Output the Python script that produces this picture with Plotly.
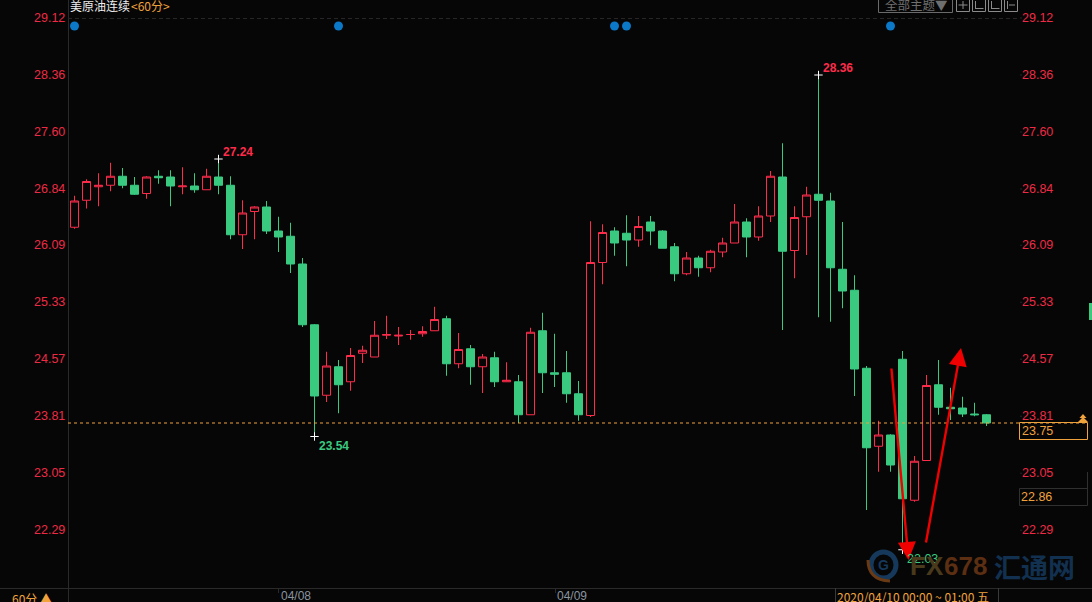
import plotly.graph_objects as go

# 60 min candles
opens = [26.33, 26.69, 26.87, 26.89, 27.01, 26.89, 26.78, 27.01, 27.00, 26.87, 26.88, 26.83, 27.00, 26.89, 26.23, 26.54,
         26.60, 26.28, 26.21, 25.84, 25.03, 24.09, 24.47, 24.27, 24.65, 24.60, 24.89, 24.88, 24.90, 24.91, 24.95, 25.11,
         24.51, 24.71, 24.47, 24.59, 24.27, 24.27, 23.83, 24.95, 24.39, 24.39, 24.11, 23.82, 25.86, 26.28, 26.25, 26.16,
         26.40, 26.28, 26.07, 25.71, 25.92, 25.79, 26.00, 26.12, 26.40, 26.20, 26.48, 27.00, 26.02, 26.47, 26.77, 26.68,
         25.77, 25.49, 24.45, 23.41, 23.56, 24.57, 22.69, 23.22, 24.23, 23.93, 23.92, 23.84, 23.83]
closes = [26.68, 26.94, 26.89, 27.01, 26.89, 26.77, 27.00, 26.99, 26.88, 26.88, 26.83, 27.01, 26.89, 26.23, 26.52, 26.60,
          26.28, 26.20, 25.84, 25.03, 24.08, 24.48, 24.23, 24.62, 24.69, 24.89, 24.90, 24.89, 24.90, 24.94, 25.10, 24.51,
          24.70, 24.47, 24.60, 24.27, 24.29, 23.83, 24.93, 24.39, 24.37, 24.11, 23.83, 25.86, 26.26, 26.12, 26.16, 26.34,
          26.28, 26.05, 25.71, 25.92, 25.79, 26.01, 26.12, 26.40, 26.20, 26.48, 27.01, 26.01, 26.46, 26.76, 26.69, 25.79,
          25.48, 24.44, 23.39, 23.56, 23.16, 22.71, 23.21, 24.22, 23.93, 23.91, 23.84, 23.83, 23.72]
highs = [26.75, 26.97, 27.05, 27.19, 27.12, 27.00, 27.01, 27.09, 27.09, 27.13, 27.05, 27.11, 27.24, 27.01, 26.69, 26.61,
         26.68, 26.47, 26.39, 25.92, 25.04, 24.67, 24.56, 24.72, 24.75, 25.08, 25.15, 25.00, 24.96, 25.01, 25.27, 25.15,
         24.92, 24.76, 24.64, 24.67, 24.53, 24.36, 24.99, 25.19, 24.91, 24.68, 24.28, 26.41, 26.37, 26.33, 26.49, 26.48,
         26.48, 26.29, 26.12, 26.00, 25.95, 26.03, 26.19, 26.64, 26.45, 26.61, 27.08, 27.45, 26.61, 26.87, 28.36, 26.79,
         26.40, 25.69, 24.48, 23.75, 23.57, 24.68, 23.28, 24.36, 24.56, 24.19, 24.07, 23.99, 23.84]
lows = [26.31, 26.58, 26.61, 26.81, 26.85, 26.76, 26.71, 26.91, 26.61, 26.77, 26.79, 26.83, 26.77, 26.17, 26.04, 26.17,
        26.24, 26.00, 25.72, 25.00, 23.54, 24.00, 23.85, 24.15, 24.52, 24.60, 24.84, 24.76, 24.83, 24.87, 24.95, 24.35,
        24.45, 24.23, 24.12, 24.20, 24.27, 23.72, 23.83, 24.12, 24.20, 23.99, 23.75, 23.80, 25.57, 25.95, 25.81, 26.07,
        26.09, 26.05, 25.61, 25.69, 25.67, 25.73, 25.93, 26.12, 25.93, 26.15, 26.40, 24.96, 25.65, 25.96, 25.13, 25.07,
        25.25, 24.08, 22.56, 23.07, 23.07, 22.03, 22.67, 23.22, 23.83, 23.76, 23.80, 23.81, 23.68]

price_ticks = [29.12, 28.36, 27.60, 26.84, 26.09, 25.33, 24.57, 23.81, 23.05, 22.29]
tick_text = ["29.12", "28.36", "27.60", "26.84", "26.09", "25.33", "24.57", "23.81", "23.05", "22.29"]
date_idx = [17, 40]
date_text = ["04/08", "04/09"]
event_idx = [0, 22, 45, 46, 68]
extreme_idx = [12, 62, 20, 69]
extreme_val = [27.24, 28.36, 23.54, 22.03]
last_line = 23.72

W, H = 1092, 602
PLOT_L, PLOT_R, PLOT_B = 68, 1018, 588
BG = "#060606"
RED = "#FF2B4A"
AXIS_RED = "#EE2A45"
GREEN = "#39CA80"
ORANGE = "#F0A23C"
GRID = "#2A2A2A"
ICON = "#8A8A8A"
CJK = "Noto Sans CJK SC"
LATIN = "Liberation Sans"


# pixel helpers, the screenshot is easier to measure in pixels
def idx(px):
    return (px - 74.5) / 12


def price(py):
    return 29.12 - (py - 18) / 75


def px_x(px):
    return px / W


def px_y(py):
    return 1 - py / H


def label(fig, text, x, y, color, size=12, anchor="left", font=LATIN):
    fig.add_annotation(text=text, xref="paper", yref="paper", x=px_x(x), y=px_y(y), xanchor=anchor, yanchor="middle",
                       showarrow=False, font=dict(color=color, size=size, family=font), borderpad=0, borderwidth=0)


def rect(fig, x0, y0, x1, y1, line=None, fill=None, width=1):
    fig.add_shape(type="rect", xref="paper", yref="paper", x0=px_x(x0), x1=px_x(x1), y0=px_y(y0), y1=px_y(y1),
                  line=dict(color=line, width=width if line else 0), fillcolor=fill, layer="above")


def hvline(fig, x0, y0, x1, y1, color=GRID, dash="solid", layer="below"):
    fig.add_shape(type="line", xref="paper", yref="paper", x0=px_x(x0), x1=px_x(x1), y0=px_y(y0), y1=px_y(y1),
                  line=dict(color=color, width=1, dash=dash), layer=layer)


def chevron(fig, cx, top, bottom, half):
    path = f"M {px_x(cx)} {px_y(top)} L {px_x(cx + half)} {px_y(bottom)} L {px_x(cx - half)} {px_y(bottom)} Z"
    fig.add_shape(type="path", xref="paper", yref="paper", path=path, fillcolor=ORANGE, line=dict(width=0))


xs = list(range(len(opens)))
fig = go.Figure()
fig.add_trace(go.Candlestick(
    x=xs, open=opens, high=highs, low=lows, close=closes, whiskerwidth=0,
    increasing=dict(line=dict(color=RED, width=1), fillcolor=BG),
    decreasing=dict(line=dict(color=GREEN, width=1), fillcolor=GREEN),
    showlegend=False,
))
fig.add_trace(go.Scatter(x=event_idx, y=[price(26)] * len(event_idx), mode="markers", showlegend=False,
                         marker=dict(color="#0B78C8", size=9, symbol="circle")))
fig.add_trace(go.Scatter(x=extreme_idx, y=extreme_val, mode="markers", showlegend=False,
                         marker=dict(symbol="cross-thin", size=6, line=dict(color="#FFFFFF", width=1))))

# last price line
fig.add_shape(type="line", xref="paper", yref="y", x0=px_x(PLOT_L), x1=px_x(1087), y0=last_line, y1=last_line,
              line=dict(color=ORANGE, width=1, dash="3px,3px"))

# frame lines
hvline(fig, PLOT_L + 0.5, 0, PLOT_L + 0.5, H)
hvline(fig, 0, PLOT_B + 0.5, W, PLOT_B + 0.5)
hvline(fig, PLOT_L, 18.5, PLOT_R, 18.5, color="#262626", dash="4px,3px")
hvline(fig, 278.5, PLOT_B, 278.5, PLOT_B + 5)
hvline(fig, 555.5, PLOT_B, 555.5, PLOT_B + 5)
hvline(fig, 1087.5, 472, 1087.5, 505, color="#303030")

# hand drawn arrows, kept under the texts
fig.add_annotation(xref="x", yref="y", axref="x", ayref="y", x=idx(908.5), y=price(560), ax=idx(891.3), ay=price(367),
                   showarrow=True, arrowhead=2, arrowsize=1.5, arrowwidth=2.4, arrowcolor="#F00000", text="")
fig.add_annotation(xref="x", yref="y", axref="x", ayref="y", x=idx(961), y=price(348), ax=idx(925.7), ay=price(544),
                   showarrow=True, arrowhead=2, arrowsize=1.5, arrowwidth=2.4, arrowcolor="#F00000", text="")

# axis labels on both sides
for value, text in zip(price_ticks, tick_text):
    y = 18 + (29.12 - value) * 75
    label(fig, text, 65, y, AXIS_RED, size=12.5, anchor="right")
    label(fig, text, 1022, y, AXIS_RED, size=12.5)
    hvline(fig, 1020, y, 1022, y, color="#242424")

# extreme labels
label(fig, "<b>27.24</b>", 223, 152, RED)
label(fig, "<b>28.36</b>", 823, 68, RED)
label(fig, "<b>23.54</b>", 319, 446, GREEN)
label(fig, "22.03", 907, 559, GREEN, size=12.5)

# title, toolbar
label(fig, "美原油连续", 70, 6, "#EDEDED", size=12, font=CJK)
label(fig, "&lt;60分&gt;", 131, 6, ORANGE, size=12, font=CJK)
rect(fig, 878.5, -2, 952.5, 12.5, line="#6A6A6A")
label(fig, "全部主题▼", 885, 5, "#6F6F6F", size=12.5, font=CJK)
for x0 in [956.5, 972.5, 988.5, 1004.5]:
    rect(fig, x0, -2, x0 + 13, 11.5, line=ICON)
# small glyphs inside the toolbar buttons
hvline(fig, 958.5, 5, 967.5, 5, color=ICON, layer="above")
hvline(fig, 963, 1, 963, 9, color=ICON, layer="above")
hvline(fig, 975.5, 1, 975.5, 9, color=ICON, layer="above")
hvline(fig, 975.5, 8.5, 983.5, 8.5, color=ICON, layer="above")
hvline(fig, 991.5, 1, 991.5, 9, color=ICON, layer="above")
hvline(fig, 991.5, 8.5, 999.5, 8.5, color=ICON, layer="above")
hvline(fig, 1007.5, 1, 1007.5, 9, color=ICON, layer="above")
hvline(fig, 1009, 5, 1015, 5, color=ICON, layer="above")

# right side boxes
rect(fig, 1019.5, 422.5, 1087.5, 439.5, line=ORANGE)
label(fig, "23.75", 1022, 431, ORANGE, size=12.5)
rect(fig, 1019.5, 488.5, 1087.5, 505.5, line="#303030")
label(fig, "22.86", 1021, 497, ORANGE, size=12.5)
chevron(fig, 1083, 414, 418, 3.5)
chevron(fig, 1083, 417, 422, 5)
rect(fig, 1089, 303, W, 320, fill=GREEN)

# bottom bar
label(fig, "60分 ▲", 12, 598, ORANGE, size=12, font=CJK)
for i, text in zip(date_idx, date_text):
    label(fig, text, 74.5 + 12 * i + 2, 596, "#8A94A0", size=12)
hvline(fig, 835.5, PLOT_B, 835.5, H, color="#3A3A3A")
hvline(fig, 998.5, PLOT_B, 998.5, H, color="#3A3A3A")
label(fig, "2020/04/10 00:00 ~ 01:00 五", 837, 596, ORANGE, size=12, font=CJK)

# watermark
fig.add_shape(type="circle", xref="paper", yref="paper", x0=px_x(871), x1=px_x(896), y0=px_y(552), y1=px_y(578),
              line=dict(color="#16385A", width=5), layer="below")
fig.add_shape(type="path", xref="paper", yref="paper", layer="below", line=dict(color="#6A3A14", width=3),
              path=f"M {px_x(868)} {px_y(560)} Q {px_x(868)} {px_y(580)} {px_x(890)} {px_y(581)}")
label(fig, "<b>G</b>", 878, 565, "#16385A", size=14)
label(fig, "<b>FX</b>", 910, 566, "#4A3A1C", size=26)
label(fig, "<b>678</b>", 944, 566, "#5C2E12", size=26)
label(fig, "<b>汇通网</b>", 994, 566, "#12304F", size=27, font=CJK)

fig.update_layout(
    width=W, height=H, margin=dict(l=0, r=0, t=0, b=0), showlegend=False,
    paper_bgcolor=BG, plot_bgcolor=BG, boxgap=1 / 3, boxgroupgap=0,
    font=dict(family=LATIN, size=12),
    xaxis=dict(domain=[px_x(PLOT_L), px_x(PLOT_R)], range=[idx(PLOT_L), idx(PLOT_R)], showgrid=False, zeroline=False,
               showticklabels=False, rangeslider=dict(visible=False)),
    yaxis=dict(domain=[px_y(PLOT_B), 1], range=[price(PLOT_B), price(0)], showgrid=False, zeroline=False,
               showticklabels=False),
)
# page body has a default margin that would push the figure off by 8px
fig.write_html("out.html", config=dict(displayModeBar=False),
               post_script="document.body.style.margin = '0'; document.body.style.overflow = 'hidden';")
